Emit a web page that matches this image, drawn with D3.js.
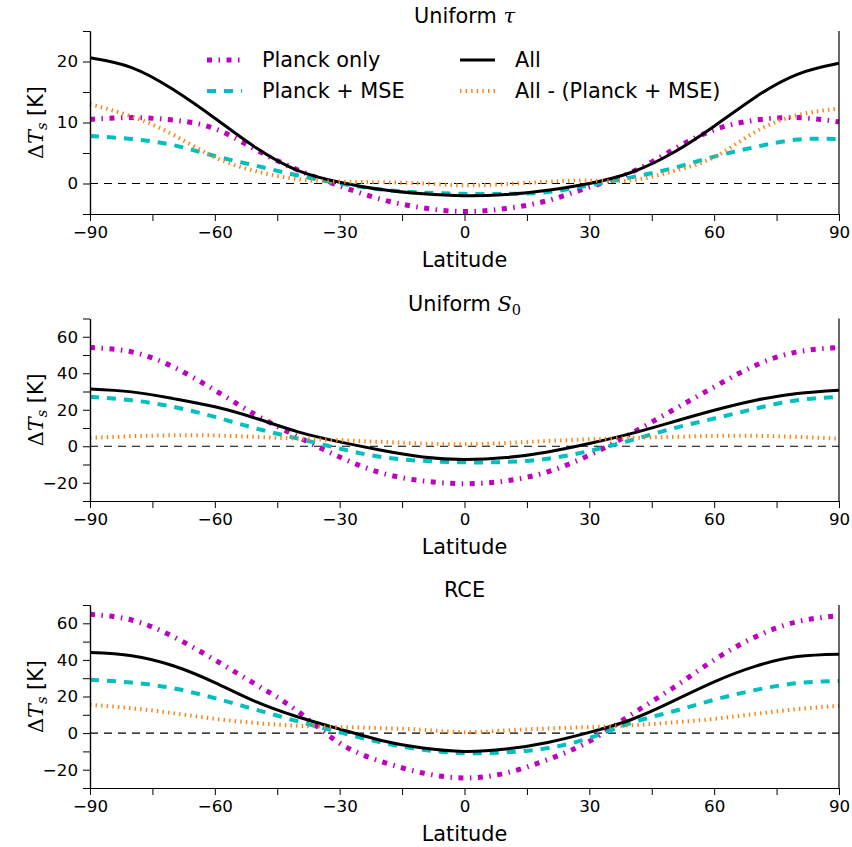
<!DOCTYPE html>
<html>
<head>
<meta charset="utf-8">
<script src="https://cdn.jsdelivr.net/npm/d3@7"></script>
<style>
    body { margin: 0; background: #fff; }
    svg { display: block; font-family: "DejaVu Sans", sans-serif; }
    .tick text { font-size: 16.7px; }
    .axis path, .axis line { stroke: #000; }
</style>
</head>
<body>
<div id="chart"></div>
<script>
// latitude grid (deg)
var lat = [-90, -80, -70, -60, -50, -40, -30, -20, -10, 0, 10, 20, 30, 40, 50, 60, 70, 80, 90];

// Uniform tau
var tauPlanck = [10.5, 10.8, 10.4, 9.0, 5.5, 2.2, -0.4, -2.6, -4.0, -4.6, -4.1, -2.8, -0.6, 1.8, 5.5, 8.8, 10.4, 10.8, 10.1];
var tauMSE = [7.8, 7.3, 6.3, 4.5, 2.9, 1.3, 0.0, -1.0, -1.5, -1.7, -1.7, -1.4, -0.3, 1.0, 2.5, 4.4, 6.0, 7.2, 7.3];
var tauAll = [20.6, 19.0, 15.4, 10.7, 5.8, 2.1, 0.2, -1.0, -1.7, -2.0, -1.8, -1.1, 0.0, 1.8, 5.0, 9.4, 14.2, 17.9, 19.7];
var tauRest = [13.0, 11.0, 8.0, 4.3, 2.0, 0.7, 0.3, 0.2, 0.0, -0.3, -0.1, 0.3, 0.5, 0.5, 2.0, 4.3, 8.5, 11.2, 12.3];

// Uniform S0
var s0Planck = [54.1, 51.7, 43.5, 30.7, 17.0, 5.1, -5.9, -14.6, -19.0, -20.5, -19.0, -14.0, -4.9, 6.9, 19.7, 32.5, 44.4, 51.7, 54.1];
var s0MSE = [27.1, 25.2, 21.6, 16.1, 9.7, 4.2, -1.3, -5.9, -8.0, -8.8, -8.6, -6.8, -2.6, 3.3, 9.7, 15.2, 20.7, 25.2, 27.1];
var s0All = [31.4, 29.8, 26.1, 21.6, 15.2, 7.9, 2.4, -2.2, -5.9, -7.3, -6.2, -3.1, 1.5, 6.9, 13.3, 19.7, 25.2, 28.9, 30.7];
var s0Rest = [4.6, 5.5, 6.0, 5.9, 5.1, 4.2, 3.3, 2.4, 1.5, 1.1, 1.8, 2.9, 3.8, 4.6, 5.1, 5.7, 5.7, 5.1, 4.2];

// RCE
var rcePlanck = [64.9, 61.8, 52.7, 40.0, 26.4, 11.8, -5.5, -15.5, -21.8, -24.5, -21.8, -14.5, -4.5, 10.0, 24.5, 40.0, 52.7, 60.9, 64.2];
var rceMSE = [29.1, 27.6, 24.5, 19.1, 12.7, 6.4, 0.4, -5.1, -9.1, -10.9, -10.5, -8.2, -2.7, 5.5, 11.8, 18.2, 23.6, 27.3, 28.5];
var rceAll = [44.0, 42.3, 36.8, 27.6, 17.0, 8.8, 2.2, -4.0, -8.2, -10.0, -8.7, -5.1, 0.4, 7.3, 17.3, 28.0, 36.6, 41.8, 43.1];
var rceRest = [15.5, 13.6, 10.9, 7.8, 5.5, 4.0, 3.3, 2.7, 1.8, 0.5, 1.5, 2.5, 3.3, 4.2, 5.8, 7.8, 10.5, 13.1, 14.9];

var seriesNames = ["Planck only", "Planck + MSE", "All", "All - (Planck + MSE)"];
var xMajor = [-90, -60, -30, 0, 30, 60, 90];
var xMinor = [-75, -45, -15, 15, 45, 75];

var styles = [
    {color: "#bf00bf", width: 5, dash: "5,6.5,1.5,6.5"},
    {color: "#00bfbf", width: 4, dash: "9,8"},
    {color: "#000000", width: 3, dash: null},
    {color: "#ff7f0e", width: 4, dash: "1.4,4.2"}
];

var panels = [
    {title: "tau", domain: [-5, 25], top: 31, bottom: 214,
        yMajor: [0, 10, 20], yMinor: [-5, 5, 15, 25],
        data: [tauPlanck, tauMSE, tauAll, tauRest], legend: true},
    {title: "s0", domain: [-30, 70], top: 318.5, bottom: 501,
        yMajor: [-20, 0, 20, 40, 60], yMinor: [-30, -10, 10, 30, 50, 70],
        data: [s0Planck, s0MSE, s0All, s0Rest]},
    {title: "RCE", domain: [-30, 70], top: 605, bottom: 788,
        yMajor: [-20, 0, 20, 40, 60], yMinor: [-30, -10, 10, 30, 50, 70],
        data: [rcePlanck, rceMSE, rceAll, rceRest]}
];

var width = 852, height = 847;
var left = 90, right = 839;

var svg = d3.select("#chart").append("svg")
    .attr("width", width)
    .attr("height", height);

var x = d3.scaleLinear().domain([-90, 90]).range([left, right]);
var fmt = function (d) { return d < 0 ? "\u2212" + Math.abs(d) : String(d); };

panels.forEach(function (p) {
    var y = d3.scaleLinear().domain(p.domain).range([p.bottom, p.top]);
    var g = svg.append("g");

    // zero line
    g.append("line")
        .attr("x1", x(-90)).attr("x2", x(90))
        .attr("y1", y(0)).attr("y2", y(0))
        .attr("stroke", "#000")
        .attr("stroke-width", 1.2)
        .attr("stroke-dasharray", "8,6");

    var line = d3.line()
        .x(function (d, i) { return x(lat[i]); })
        .y(function (d) { return y(d); })
        .curve(d3.curveNatural);

    p.data.forEach(function (vals, k) {
        var s = styles[k];
        g.append("path")
            .datum(vals)
            .attr("d", line)
            .attr("fill", "none")
            .attr("stroke", s.color)
            .attr("stroke-width", s.width)
            .attr("stroke-dasharray", s.dash);
    });

    // axes
    g.append("g").attr("class", "axis")
        .attr("transform", "translate(0," + p.bottom + ")")
        .call(d3.axisBottom(x).tickValues(xMajor).tickFormat(fmt).tickSize(7).tickPadding(5).tickSizeOuter(0));
    g.append("g").attr("class", "axis")
        .attr("transform", "translate(0," + p.bottom + ")")
        .call(d3.axisBottom(x).tickValues(xMinor).tickFormat("").tickSize(7).tickSizeOuter(0));
    g.append("g").attr("class", "axis")
        .attr("transform", "translate(" + left + ",0)")
        .call(d3.axisLeft(y).tickValues(p.yMajor).tickFormat(fmt).tickSize(7).tickPadding(5).tickSizeOuter(0));
    g.append("g").attr("class", "axis")
        .attr("transform", "translate(" + left + ",0)")
        .call(d3.axisLeft(y).tickValues(p.yMinor).tickFormat("").tickSize(7).tickSizeOuter(0));
    g.selectAll(".axis path.domain").attr("stroke-width", 1.2);
    g.selectAll(".axis text").attr("font-family", "DejaVu Sans").attr("fill", "#000");

    // right spine
    g.append("line")
        .attr("x1", right).attr("x2", right)
        .attr("y1", p.top).attr("y2", p.bottom)
        .attr("stroke", "#000").attr("stroke-width", 1.2);

    // title
    var t = g.append("text")
        .attr("x", (left + right) / 2)
        .attr("y", p.top - 8)
        .attr("text-anchor", "middle")
        .attr("font-size", 20.8);
    if (p.title === "tau") {
        t.append("tspan").text("Uniform ");
        t.append("tspan").attr("font-family", "DejaVu Serif").attr("font-style", "italic").text("\u03C4");
    } else if (p.title === "s0") {
        t.append("tspan").text("Uniform ");
        t.append("tspan").attr("font-family", "DejaVu Serif").attr("font-style", "italic").text("S");
        t.append("tspan").attr("font-family", "DejaVu Serif").attr("font-size", 14.5).attr("dy", 4).text("0");
    } else {
        t.text("RCE");
    }

    // x label
    g.append("text")
        .attr("x", (left + right) / 2)
        .attr("y", p.bottom + 53)
        .attr("text-anchor", "middle")
        .attr("font-size", 20.8)
        .text("Latitude");

    // y label
    var yl = g.append("text")
        .attr("transform", "translate(43," + (p.top + p.bottom) / 2 + ") rotate(-90)")
        .attr("text-anchor", "middle")
        .attr("font-size", 20.8);
    yl.append("tspan").attr("font-family", "DejaVu Serif").text("\u0394");
    yl.append("tspan").attr("font-family", "DejaVu Serif").attr("font-style", "italic").text("T");
    yl.append("tspan").attr("font-family", "DejaVu Serif").attr("font-style", "italic")
        .attr("font-size", 14.5).attr("dy", 4).text("s");
    yl.append("tspan").attr("dy", -4).text(" [K]");

    if (p.legend) {
        var cols = [[0, 1], [2, 3]];
        var colX = [207, 460];
        var rowY = [60, 91];
        cols.forEach(function (c, ci) {
            c.forEach(function (k, ri) {
                var s = styles[k];
                g.append("line")
                    .attr("x1", colX[ci]).attr("x2", colX[ci] + 35)
                    .attr("y1", rowY[ri]).attr("y2", rowY[ri])
                    .attr("stroke", s.color)
                    .attr("stroke-width", s.width)
                    .attr("stroke-dasharray", s.dash);
                g.append("text")
                    .attr("x", colX[ci] + 55)
                    .attr("y", rowY[ri])
                    .attr("dy", "0.36em")
                    .attr("font-size", 20.8)
                    .text(seriesNames[k]);
            });
        });
    }
});
</script>
</body>
</html>
